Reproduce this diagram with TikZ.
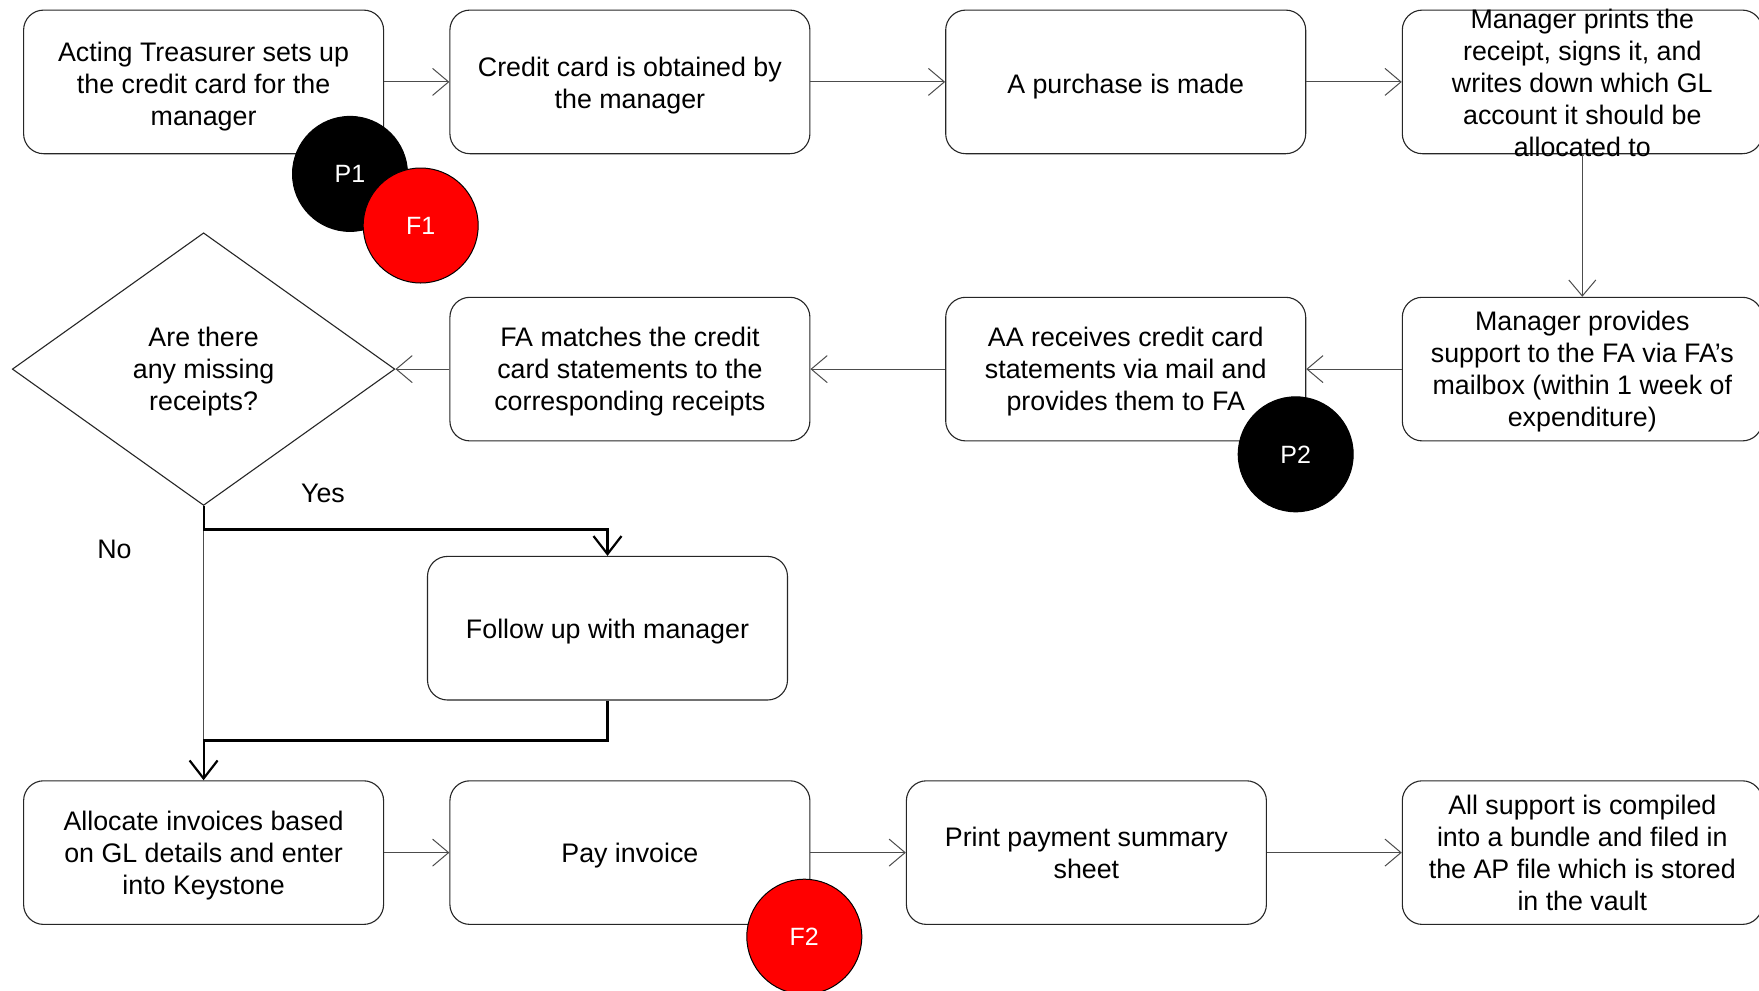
\documentclass[tikz,border=0pt]{standalone}
\usepackage{fontspec}
\setmainfont{Liberation Sans}
\usetikzlibrary{arrows.meta,shapes.geometric}
\definecolor{markred}{HTML}{FF0000}
% \procbox{name}{position}{text drop}{text}: rounded process box with its text
\newcommand\procbox[4]{%
  \node[box] (#1) at (#2) {};
  \node[boxtext] (#1-text) at ([yshift=-#3bp]#1.center) {#4};
}
\begin{document}
\begin{tikzpicture}[x=1bp,y=-1bp,
  every node/.style={font=\fontsize{26.8bp}{32bp}\selectfont, inner sep=0pt},
  box/.style={draw=black!85, line width=1.1bp, rounded corners=20bp,
    minimum width=360bp, minimum height=143.6bp},
  boxtext/.style={align=center},
  decision/.style={diamond, draw=black!85, line width=1.1bp, aspect=1.4,
    minimum width=382.6bp, minimum height=272.6bp},
  badge/.style={circle, draw=black, line width=1bp, minimum size=115bp,
    text=white, font=\fontsize{25bp}{29bp}\selectfont},
  flow/.style={draw=black!70, line width=1bp,
    -{Straight Barb[length=16bp,width=27bp]}},
  flowline/.style={draw=black!70, line width=1bp},
  branch/.style={draw=black, line width=2.2bp},
  branchtip/.style={branch, -{Straight Barb[length=18bp,width=28bp]}},
]
\useasboundingbox (0,0) rectangle (1759,990);
\fill[white] (0,0) rectangle (1759,990);
\clip (0,0) rectangle (1759,990);

% top row
\procbox{A}{203.6,81.9}{4.5}{Acting Treasurer sets up\\the credit card for the\\manager}
\procbox{B}{629.9,81.9}{4}{Credit card is obtained by\\the manager}
\procbox{C}{1125.7,81.9}{4.5}{A purchase is made}
\procbox{D}{1582.3,81.9}{1}{Manager prints the\\receipt, signs it, and\\writes down which GL\\account it should be\\allocated to}

% middle row
\node[decision] (Q) at (203.6,369.1) {};
\node[boxtext] (Q-text) at ([yshift=-2.5bp]Q.center) {Are there\\any missing\\receipts?};
\procbox{E}{629.9,369.1}{2.2}{FA matches the credit\\card statements to the\\corresponding receipts}
\procbox{F}{1125.7,369.1}{2.2}{AA receives credit card\\statements via mail and\\provides them to FA}
\procbox{G}{1582.3,369.1}{2.2}{Manager provides\\support to the FA via FA’s\\mailbox (within 1 week of\\expenditure)}

\procbox{FU}{607.5,628.2}{3.4}{Follow up with manager}

% bottom row
\procbox{H}{203.6,852.6}{2.8}{Allocate invoices based\\on GL details and enter\\into Keystone}
\procbox{I}{629.9,852.6}{3.4}{Pay invoice}
\procbox{J}{1086.4,852.6}{0}{Print payment summary\\sheet}
\procbox{K}{1582.3,852.6}{0.5}{All support is compiled\\into a bundle and filed in\\the AP file which is stored\\in the vault}

% connectors
\draw[flow] (A) -- (B);
\draw[flow] (B) -- (C);
\draw[flow] (C) -- (D);
\draw[flow] (D) -- (G);
\draw[flow] (G) -- (F);
\draw[flow] (F) -- (E);
\draw[flow] (E) -- (Q.east);

\coordinate (yesTurn) at (0,529.5);
\coordinate (merge) at (0,740.4);
\draw[flowline] (Q.south) -- (H.north);
\draw[branchtip] (Q.south) -- (Q.south |- yesTurn) -- (FU.north |- yesTurn) -- (FU.north);
\draw[branchtip] (FU.south) -- (FU.south |- merge) -- (H.north |- merge) -- (H.north);

\draw[flow] (H) -- (I);
\draw[flow] (I) -- (J);
\draw[flow] (J) -- (K);

\node (yes) at (323,493.6) {Yes};
\node (no) at (114.4,549.7) {No};

% markers
\node[badge, fill=black] (P1) at (350,173.9) {P1};
\node[badge, fill=markred] (F1) at (420.7,225.5) {F1};
\node[badge, fill=black] (P2) at (1295.7,454.3) {P2};
\node[badge, fill=markred] (F2) at (804.3,936.7) {F2};
\end{tikzpicture}
\end{document}
